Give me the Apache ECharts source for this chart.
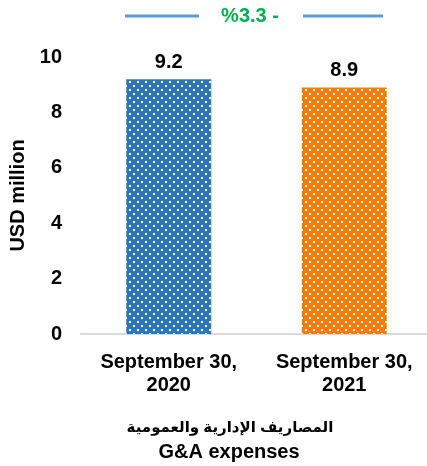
<!DOCTYPE html>
<html>
<head>
<meta charset="utf-8">
<script src="https://cdn.jsdelivr.net/npm/echarts@6/dist/echarts.min.js"></script>
<style>html,body{margin:0;padding:0;background:#fff}#c{width:427px;height:466px}</style>
</head>
<body>
<div id="c"></div>
<script>
const categories = ['September 30,\n2020', 'September 30,\n2021'];
const values = [9.2, 8.9];
const barColors = ['#2E75B6', '#F57B0C'];
const yTicks = [0, 2, 4, 6, 8, 10];
const changeLabel = '%3.3 -';
const titleAr = 'المصاريف الإدارية والعمومية';
const titleEn = 'G&A expenses';

const FONT = 'Arial, "Liberation Sans", "DejaVu Sans", sans-serif';

function dotPattern(color) {
  const c = document.createElement('canvas');
  c.width = 8; c.height = 8;
  const g = c.getContext('2d');
  g.fillStyle = color; g.fillRect(0, 0, 8, 8);
  g.fillStyle = '#ffffff';
  g.fillRect(1, 1, 2, 2);
  g.fillRect(5, 5, 2, 2);
  return { image: c, repeat: 'repeat' };
}

const chart = echarts.init(document.getElementById('c'));
chart.setOption({
  animation: false,
  grid: { left: 81, top: 57, width: 351, height: 277, containLabel: false, outerBoundsMode: 'none' },
  xAxis: {
    type: 'category',
    data: categories,
    axisLine: { lineStyle: { color: '#D9D9D9', width: 2 } },
    axisTick: { show: false },
    axisLabel: { color: '#000', fontWeight: 'bold', fontSize: 20, fontFamily: FONT, lineHeight: 23, margin: 17, interval: 0 }
  },
  yAxis: {
    type: 'value',
    min: yTicks[0], max: yTicks[yTicks.length - 1], interval: 2,
    splitLine: { show: false },
    axisLine: { show: false },
    axisTick: { show: false },
    axisLabel: { color: '#000', fontWeight: 'bold', fontSize: 20, fontFamily: FONT, margin: 19 },
    name: 'USD million',
    nameLocation: 'middle',
    nameGap: 52,
    nameTextStyle: { color: '#000', fontWeight: 'bold', fontSize: 20, fontFamily: FONT }
  },
  series: [{
    type: 'bar',
    barWidth: 85,
    data: values.map((v, i) => ({ value: v, itemStyle: { color: dotPattern(barColors[i]) } })),
    label: { show: true, position: 'top', distance: 7, color: '#000', fontWeight: 'bold', fontSize: 20, fontFamily: FONT }
  }],
  graphic: [
    { type: 'line', shape: { x1: 125, y1: 16, x2: 199, y2: 16 }, style: { stroke: '#5B9BD5', lineWidth: 3 } },
    { type: 'line', shape: { x1: 303, y1: 16, x2: 383, y2: 16 }, style: { stroke: '#5B9BD5', lineWidth: 3 } },
    { type: 'text', x: 250, y: 16, style: { text: changeLabel, fill: '#00B050', font: 'bold 20px ' + FONT, textAlign: 'center', textVerticalAlign: 'middle' } },
    { type: 'text', x: 230, y: 428, style: { text: titleAr, fill: '#000', font: 'bold 15px ' + FONT, textAlign: 'center', textVerticalAlign: 'middle' } },
    { type: 'text', x: 229, y: 452, style: { text: titleEn, fill: '#000', font: 'bold 20px ' + FONT, textAlign: 'center', textVerticalAlign: 'middle' } }
  ]
});
</script>
</body>
</html>
